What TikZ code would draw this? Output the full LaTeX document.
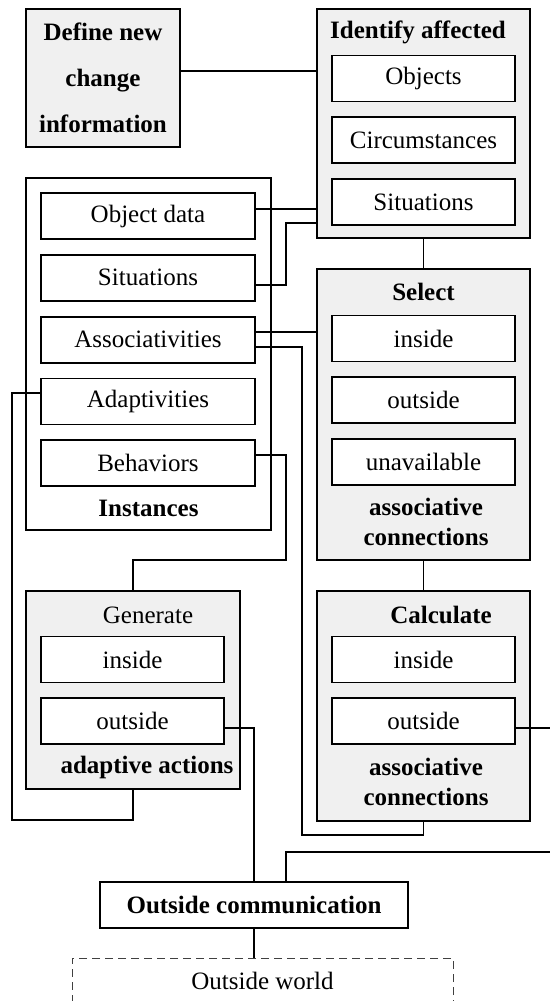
\documentclass[tikz,border=0pt]{standalone}
\usepackage{fontspec}
\setmainfont{Liberation Serif}
\usetikzlibrary{positioning}
\definecolor{BoxGray}{HTML}{F0F0F0}

\begin{document}
\begin{tikzpicture}[x=0.5pt, y=-0.5pt,
group/.style={
	rectangle,
	draw,
	line width=0.9pt,
	fill=BoxGray},
ob/.style={
	rectangle,
	draw,
	fill=white,
	line width=0.9pt,
	minimum width=91.5pt,
	minimum height=23pt,
	inner sep=0pt,
	font=\fontsize{12.5}{15}\selectfont},
obwide/.style={
	ob,
	minimum width=107pt},
title/.style={
	inner sep=0pt,
	align=center,
	font=\fontsize{12.5}{15}\selectfont\bfseries},
link/.style={
	draw,
	line width=0.9pt}]

\useasboundingbox (0,0) rectangle (550,1001);
\clip (0,0) rectangle (550,1001);

%Change steps
\node[group, minimum width=77pt, minimum height=69pt, align=center,
	font=\fontsize{12.5}{23}\selectfont\bfseries] (Define) at (103,78) {Define new\\change\\information};

\node[group, minimum width=106.5pt, minimum height=114.5pt] (Identify) at (423.5,123.5) {};
\node[title] (IdentifyT) at (418,32) {Identify affected};
\node[ob] (Objects) at (423.5,78.5) {Objects};
\node[ob, below = 7pt of Objects] (Circumstances) {Circumstances};
\node[ob, below = 7pt of Circumstances] (SituationsA) {Situations};

%Instances
\node[group, fill=white, minimum width=122.5pt, minimum height=176pt] (Instances) at (148.5,354) {};
\node[obwide] (ObjectData) at (148,216) {Object data};
\node[obwide, below = 7pt of ObjectData] (SituationsB) {Situations};
\node[obwide, below = 7pt of SituationsB] (Assoc) {Associativities};
\node[obwide, below = 7pt of Assoc] (Adaptivities) {Adaptivities};
\node[obwide, below = 7pt of Adaptivities] (Behaviors) {Behaviors};
\node[title] (InstancesT) at (148.5,508) {Instances};

%Select
\node[group, minimum width=106.5pt, minimum height=145.5pt] (Select) at (423.5,414.5) {};
\node[title] (SelectT) at (423.5,292) {Select};
\node[ob] (SelInside) at (423.5,338.5) {inside};
\node[ob, below = 7pt of SelInside] (SelOutside) {outside};
\node[ob, below = 7pt of SelOutside] (SelUnavail) {unavailable};
\node[title] (SelectB) at (426,522) {associative\\connections};

%Calculate
\node[group, minimum width=106.5pt, minimum height=115pt] (Calculate) at (423.5,706) {};
\node[title] (CalculateT) at (441,615) {Calculate};
\node[ob] (CalcInside) at (423.5,659.5) {inside};
\node[ob, below = 7pt of CalcInside] (CalcOutside) {outside};
\node[title] (CalculateB) at (426,782) {associative\\connections};

%Generate
\node[group, minimum width=107pt, minimum height=99pt] (Generate) at (133,690) {};
\node[title, font=\fontsize{12.5}{15}\selectfont] (GenerateT) at (148,615) {Generate};
\node[ob] (GenInside) at (132.5,659.5) {inside};
\node[ob, below = 7pt of GenInside] (GenOutside) {outside};
\node[title] (GenerateB) at (147,767) {adaptive actions};

%Outside
\node[ob, title, draw, fill=white, minimum width=154pt, minimum height=23pt] (OutComm) at (254,905) {Outside communication};
\node[ob, dashed, dash pattern=on 4pt off 2.5pt, line width=0.5pt, draw=black!75,
	minimum width=190.5pt] (OutWorld) at (262.5,981) {Outside world};

%Connections
\path[link] ([yshift=3.5pt]Define.east) -- ([yshift=3.5pt]Define.east -| Identify.west);
\path[link] (Identify.south) -- (Select.north);
\path[link] (Select.south) -- (Calculate.north);

\path[link] ([yshift=3.5pt]ObjectData.east) -- ([yshift=3.5pt]ObjectData.east -| Identify.west);
\path[link] ([yshift=-3.75pt]SituationsB.east) -| (286,223) -- (Identify.west |- 286,223);
\path[link] ([yshift=4pt]Assoc.east) -- ([yshift=4pt]Assoc.east -| Select.west);
\path[link] ([yshift=-3.5pt]Assoc.east) -| (302,835) -| (Calculate.south);
\path[link] ([yshift=4.25pt]Adaptivities.west) -| (12,820) -| (Generate.south);
\path[link] ([yshift=4pt]Behaviors.east) -| (286,560) -| (Generate.north);

\coordinate (loopEnd) at (286,852);
\path[link] ([yshift=-3.5pt]GenOutside.east) -| (OutComm.north);
\path[link] ([yshift=-3.5pt]CalcOutside.east) -- ++(60,0) |- (loopEnd) -- (loopEnd |- OutComm.north);
\path[link] (OutComm.south) -- (OutComm.south |- OutWorld.north);

\end{tikzpicture}
\end{document}
